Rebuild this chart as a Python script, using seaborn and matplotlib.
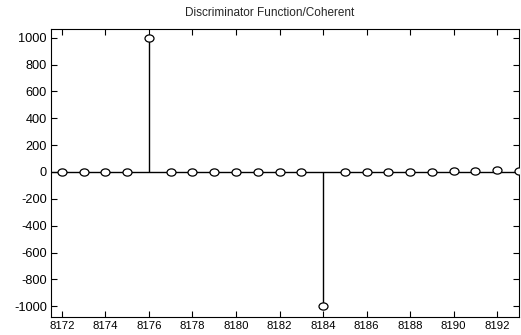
import numpy as np
import pandas as pd
import seaborn as sns
import matplotlib
matplotlib.use("Agg")
import matplotlib.pyplot as plt
from matplotlib.path import Path

# Data
samples = list(range(8172, 8194))
values = [0, 0, 0, 0, 1000, 0, 0, 0, 0, 0, 3, 0, -1000, 0, 0, 0, 0, 0, 4, 4, 12, 4]
xticks = [8172, 8174, 8176, 8178, 8180, 8182, 8184, 8186, 8188, 8190, 8192]
yticks = [-1000, -800, -600, -400, -200, 0, 200, 400, 600, 800, 1000]
title = "Discriminator Function/Coherent"

df = pd.DataFrame({"n": samples, "d": values})

sns.set_style("white")
plt.rcParams["font.family"] = ["Liberation Sans", "DejaVu Sans"]

fig = plt.figure(figsize=(5.21, 3.35), dpi=100)
ax = fig.add_axes([51 / 521, 1 - 317 / 335, (519 - 51) / 521, (317 - 29) / 335])

ax.set_xlim(8171.5, 8193.0)
ax.set_ylim(-1080, 1065)

# slightly flattened circle marker (as in the scanned reference)
circ = Path.unit_circle()
ell = Path(circ.vertices * np.array([1.0, 0.8]), circ.codes)

# baseline
ax.axhline(0, color="black", lw=1.0, zorder=1)
# stems
ax.vlines(df["n"], 0, df["d"], color="black", lw=1.0, zorder=2)
# markers
sns.scatterplot(data=df, x="n", y="d", ax=ax, marker=ell, s=42,
                facecolor="white", edgecolor="black", linewidth=0.9, zorder=3,
                legend=False)

ax.set_xticks(xticks)
ax.set_yticks(yticks)
ax.set_xticklabels([str(t) for t in xticks], fontsize=8.2)
ax.set_yticklabels([str(t) for t in yticks], fontsize=9.2)
ax.tick_params(direction="in", length=4, width=0.8, top=True, right=True,
               bottom=True, left=True, pad=3, colors="black")
ax.set_xlabel("")
ax.set_ylabel("")
for sp in ax.spines.values():
    sp.set_color("black")
    sp.set_linewidth(0.8)
    sp.set_visible(True)

fig.text(270 / 521, 1 - 13 / 335, title, ha="center", va="center", fontsize=8.5)

fig.savefig("out.png", dpi=100, facecolor="white")
